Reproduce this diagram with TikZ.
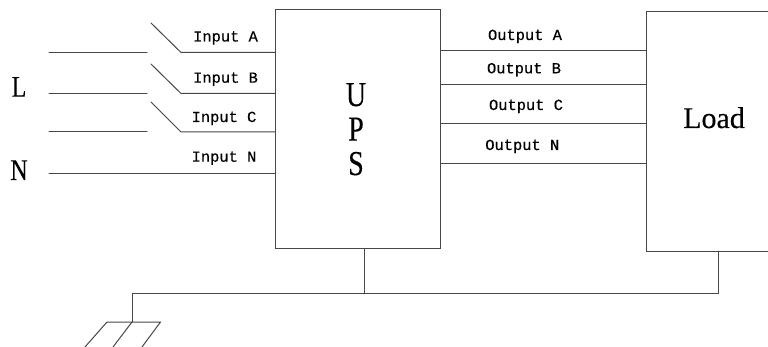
\documentclass[tikz,border=0pt]{standalone}
\usepackage{fontspec}
\setmainfont{Liberation Serif}
\newfontfamily\labelfont[FakeBold=0.5]{Liberation Mono}
\newfontfamily\tallfont[FakeStretch=0.8,FakeBold=0.2]{Liberation Serif}
\newfontfamily\loadfont[FakeBold=0.3]{Liberation Serif}
\tikzset{
  wire/.style={draw=black!72,line width=1pt,line cap=round,line join=miter},
  wirelabel/.style={anchor=base,inner sep=0pt,font=\labelfont\fontsize{15.4}{18}\selectfont,text=black},
  biglabel/.style={anchor=base,inner sep=0pt,font=\loadfont\fontsize{30}{34}\selectfont,text=black},
  talllabel/.style={anchor=base,inner sep=0pt,font=\tallfont\fontsize{30}{34}\selectfont,text=black},
  blockbox/.style={wire,rectangle,inner sep=0pt,minimum width=165pt,minimum height=238.5pt}
}
\begin{document}
\begin{tikzpicture}[x=1pt,y=-1pt]
\useasboundingbox (0,0) rectangle (768,347);
% blocks
\node[blockbox,align=center,font=\tallfont\fontsize{35}{34.5}\selectfont,text=black] (ups) at (358,129.25) {\hspace*{-4pt}U\\\hspace*{-4pt}P\\\hspace*{-4pt}S};
\node[rectangle,inner sep=0pt,minimum width=121.3pt,minimum height=239pt] (loadbox) at (707.35,131.5) {};
\draw[wire] (loadbox.north east) -- (loadbox.north west) -- (loadbox.south west) -- (loadbox.south east);
\node[biglabel] (loadtext) at (714,128) {Load};
% side labels
\node[talllabel] (lL) at (19,96.7) {L};
\node[talllabel] (lN) at (19,180) {N};
% input wires
\coordinate (la) at (49,52.5);  \coordinate (lae) at (147,52.5);
\coordinate (lb) at (49,93.5);  \coordinate (lbe) at (147,93.5);
\coordinate (lc) at (49,132);   \coordinate (lce) at (147,132);
\coordinate (ln) at (49,173.5);
\coordinate (sa) at (151,23);   \coordinate (ha) at (181,52.5);
\coordinate (sb) at (151,64);   \coordinate (hb) at (181,93.5);
\coordinate (sc) at (151,102);  \coordinate (hc) at (181,132);
\draw[wire] (la) -- (lae);
\draw[wire] (lb) -- (lbe);
\draw[wire] (lc) -- (lce);
\draw[wire] (sa) -- (ha) -- (ha -| ups.west);
\draw[wire] (sb) -- (hb) -- (hb -| ups.west);
\draw[wire] (sc) -- (hc) -- (hc -| ups.west);
\draw[wire] (ln) -- (ln -| ups.west);
\node[wirelabel] (ina) at (225.5,41.5) {Input A};
\node[wirelabel] (inb) at (225.5,82.7) {Input B};
\node[wirelabel] (inc) at (224,122) {Input C};
\node[wirelabel] (inn) at (224,161.7) {Input N};
% output wires
\coordinate (oa) at (441,50.5);
\coordinate (ob) at (441,85);
\coordinate (oc) at (441,123.5);
\coordinate (on) at (441,164);
\draw[wire] (ups.east |- oa) -- (loadbox.west |- oa);
\draw[wire] (ups.east |- ob) -- (loadbox.west |- ob);
\draw[wire] (ups.east |- oc) -- (loadbox.west |- oc);
\draw[wire] (ups.east |- on) -- (loadbox.west |- on);
\node[wirelabel] (outa) at (525,40) {Output A};
\node[wirelabel] (outb) at (524,73.3) {Output B};
\node[wirelabel] (outc) at (526,110) {Output C};
\node[wirelabel] (outn) at (522.3,150) {Output N};
% ground bus
\coordinate (gu) at (364,293);
\coordinate (gl) at (718.5,293);
\coordinate (gg) at (132,293);
\coordinate (gj) at (132,322);
\coordinate (r1) at (107,322);
\coordinate (r3) at (160.5,322);
\coordinate (d1) at (85,347);
\coordinate (d2) at (113,347);
\coordinate (d3) at (142,347);
\draw[wire] (gu |- ups.south) -- (gu);
\draw[wire] (gl |- loadbox.south) -- (gl) -- (gg) -- (gj);
\draw[wire] (d1) -- (r1) -- (r3) -- (d3);
\draw[wire] (gj) -- (d2);
\end{tikzpicture}
\end{document}
